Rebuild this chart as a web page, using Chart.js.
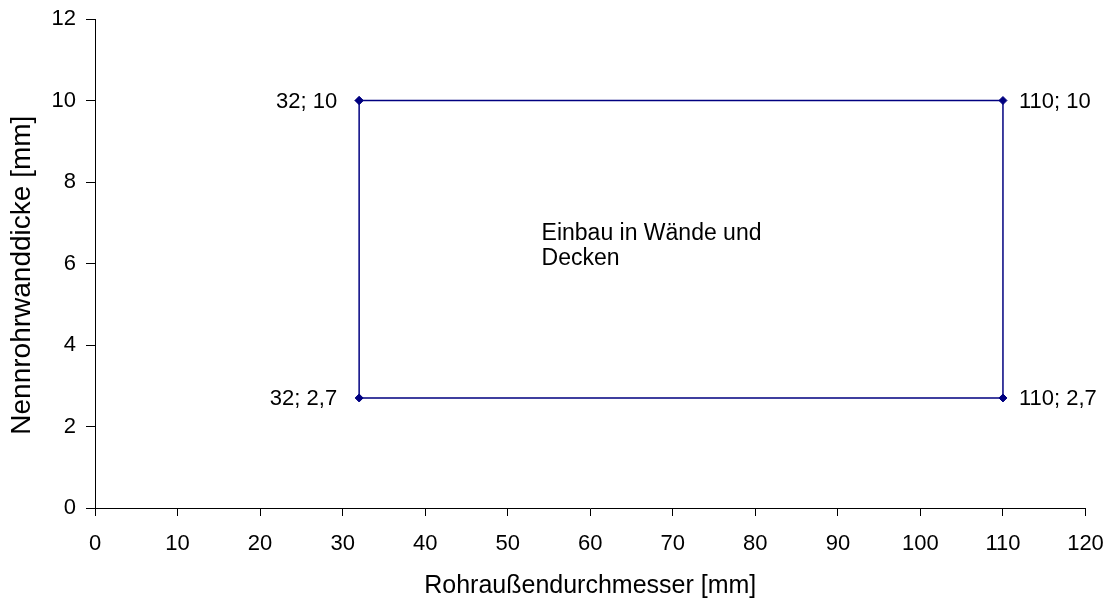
<!DOCTYPE html>
<html>
<head>
<meta charset="utf-8">
<script src="https://cdn.jsdelivr.net/npm/chart.js@4.4.1/dist/chart.umd.min.js"></script>
<style>
html,body{margin:0;padding:0;background:#fff;}
#wrap{width:1113px;height:605px;position:relative;}
</style>
</head>
<body>
<div id="wrap"><canvas id="c" width="1113" height="605"></canvas></div>
<script>
// Data
const xValues = [32, 110, 110, 32, 32];
const yValues = [10, 10, 2.7, 2.7, 10];
const pointLabels = ["32; 10", "110; 10", "110; 2,7", "32; 2,7"];
const labelSides = ["left", "right", "right", "left"];
const xTitle = "Rohraußendurchmesser [mm]";
const yTitle = "Nennrohrwanddicke [mm]\u00a0\u00a0\u00a0";
const noteLines = ["Einbau in Wände und", "Decken"];
const noteAt = {x: 54.1, y: 6.58};

const FONT = "'Liberation Sans', Arial, Helvetica, sans-serif";
const NAVY = "#000080";

const labelPlugin = {
  id: 'pointLabels',
  afterDatasetsDraw(chart) {
    const ctx = chart.ctx;
    const xs = chart.scales.x, ys = chart.scales.y;
    ctx.save();
    ctx.fillStyle = '#000';
    ctx.font = '22px ' + FONT;
    ctx.textBaseline = 'middle';
    pointLabels.forEach((t, i) => {
      const px = xs.getPixelForValue(xValues[i]);
      const py = ys.getPixelForValue(yValues[i]);
      if (labelSides[i] === 'left') {
        ctx.textAlign = 'right';
        ctx.fillText(t, px - 22, py + 1);
      } else {
        ctx.textAlign = 'left';
        ctx.fillText(t, px + 16, py + 1);
      }
    });
    // annotation
    ctx.font = '23px ' + FONT;
    ctx.textAlign = 'left';
    ctx.textBaseline = 'alphabetic';
    const ax = xs.getPixelForValue(noteAt.x);
    const ay = ys.getPixelForValue(noteAt.y);
    noteLines.forEach((t, i) => {
      ctx.fillText(t, ax, ay + i * 25);
    });
    ctx.restore();
  }
};

new Chart(document.getElementById('c'), {
  type: 'scatter',
  data: {
    datasets: [{
      data: xValues.map((x, i) => ({x: x, y: yValues[i]})),
      showLine: true,
      borderColor: NAVY,
      backgroundColor: NAVY,
      borderWidth: 1.5,
      pointStyle: 'rectRot',
      pointRadius: 4,
      pointBorderWidth: 1,
      pointBorderColor: NAVY,
      pointBackgroundColor: NAVY,
      tension: 0
    }]
  },
  options: {
    responsive: false,
    animation: false,
    devicePixelRatio: 1,
    layout: {padding: {left: 0, top: 19, right: 27.5, bottom: 0}},
    plugins: {legend: {display: false}, tooltip: {enabled: false}},
    scales: {
      x: {
        type: 'linear', min: 0, max: 120,
        afterFit(s) { s.height = 97; s.paddingLeft = 0; s.paddingRight = 0; },
        ticks: {stepSize: 10, color: '#000', font: {family: FONT, size: 22}, padding: 15, maxRotation: 0},
        grid: {drawOnChartArea: false, drawTicks: true, tickLength: 8, color: '#000', lineWidth: 1},
        border: {display: true, color: '#000', width: 1},
        title: {display: true, text: xTitle, color: '#000', font: {family: FONT, size: 25}, padding: {top: 0, bottom: 4}}
      },
      y: {
        type: 'linear', min: 0, max: 12,
        afterFit(s) { s.width = 95; s.paddingTop = 0; s.paddingBottom = 0; },
        ticks: {stepSize: 2, color: '#000', font: {family: FONT, size: 22}, padding: 10},
        grid: {drawOnChartArea: false, drawTicks: true, tickLength: 9, color: '#000', lineWidth: 1},
        border: {display: true, color: '#000', width: 1},
        title: {display: true, text: yTitle, color: '#000', font: {family: FONT, size: 28}, padding: {top: 5, bottom: 0}}
      }
    }
  },
  plugins: [labelPlugin]
});
</script>
</body>
</html>
